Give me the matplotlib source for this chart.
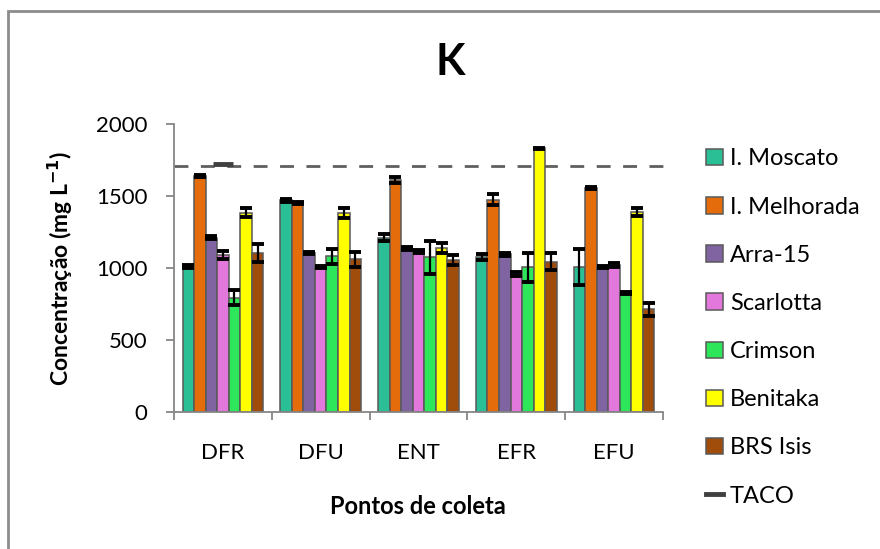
import numpy as np
import matplotlib.pyplot as plt
from matplotlib.patches import Rectangle
from matplotlib.lines import Line2D

plt.rcParams['font.family'] = ['Lato', 'DejaVu Sans']

pontos = ['DFR', 'DFU', 'ENT', 'EFR', 'EFU']
cultivares = ['I. Moscato', 'I. Melhorada', 'Arra-15', 'Scarlotta', 'Crimson', 'Benitaka', 'BRS Isis']
cores = ['#2bbf96', '#e46c0a', '#8064a2', '#e378dc', '#2ee65a', '#ffff00', '#a04d0c']

# valores (mg/L), uma lista por cultivar
moscato = [1010, 1470, 1210, 1075, 1010]
melhorada = [1640, 1450, 1610, 1475, 1555]
arra15 = [1210, 1105, 1135, 1095, 1005]
scarlotta = [1090, 1005, 1115, 960, 1020]
crimson = [795, 1080, 1075, 1005, 825]
benitaka = [1385, 1380, 1140, 1830, 1390]
brs_isis = [1105, 1060, 1055, 1045, 715]

err_moscato = [8, 12, 25, 22, 125]
err_melhorada = [8, 6, 20, 40, 6]
err_arra15 = [10, 6, 8, 10, 6]
err_scarlotta = [25, 6, 12, 15, 12]
err_crimson = [55, 55, 115, 100, 6]
err_benitaka = [30, 35, 35, 6, 30]
err_brs_isis = [60, 50, 35, 60, 45]

taco = 1710

valores = [moscato, melhorada, arra15, scarlotta, crimson, benitaka, brs_isis]
erros = [err_moscato, err_melhorada, err_arra15, err_scarlotta, err_crimson, err_benitaka, err_brs_isis]

fig = plt.figure(figsize=(8.8, 5.49), dpi=100)
ax = fig.add_axes([174/880, 1-412/549, (663-174)/880, (412-124)/549])

x = np.arange(len(pontos))
w = 0.118
for j in range(len(cultivares)):
    ax.bar(x + (j - 3) * w, valores[j], w, color=cores[j], edgecolor='#595959',
           linewidth=1.1, label=cultivares[j], zorder=2)
    ax.errorbar(x + (j - 3) * w, valores[j], yerr=erros[j], fmt='none', ecolor='black',
                elinewidth=1.6, capsize=4.2, capthick=2.8, zorder=3)

# linha de referencia TACO
ax.axhline(taco, color='#5f5f5f', linewidth=2.0, dashes=(5, 4.5), zorder=1, clip_on=False)
ax.plot([x[0]], [taco + 12], marker='_', markersize=14, mew=3.5, color='#404040', zorder=4,
        linestyle='none')

ax.set_xlim(-0.5, len(pontos) - 0.5)
ax.set_ylim(0, 2000)
ax.set_yticks([0, 500, 1000, 1500, 2000])
ax.set_xticks(x)
ax.set_xticklabels(pontos)
ax.set_xticks(np.arange(-0.5, len(pontos)), minor=True)
ax.tick_params(axis='x', which='major', length=0, pad=22, labelsize=16)
ax.tick_params(axis='x', which='minor', length=6, width=1.3, color='#868686')
ax.tick_params(axis='y', length=6, width=1.3, color='#868686', labelsize=16, pad=13)

for s in ['top', 'right']:
    ax.spines[s].set_visible(False)
for s in ['left', 'bottom']:
    ax.spines[s].set_color('#868686')
    ax.spines[s].set_linewidth(1.3)

fig.text(418/880, 1-507/549, 'Pontos de coleta', fontsize=17, fontweight='bold',
         ha='center', va='center')
fig.text(60/880, 1-268/549, 'Concentração (mg L$^{\\mathbf{-1}}$)', fontsize=16.5,
         fontweight='bold', ha='center', va='center', rotation=90)
fig.text(450/880, 1-62/549, 'K', fontsize=31, fontweight='bold', ha='center', va='center')

handles, labels = ax.get_legend_handles_labels()
handles.append(Line2D([], [], color='#404040', linewidth=3.5))
labels.append('TACO')
ax.legend(handles, labels, loc='upper left', bbox_to_anchor=(697/880, 1-139/549),
          bbox_transform=fig.transFigure, frameon=False, fontsize=17,
          handlelength=0.7, handleheight=0.7, handletextpad=0.3, labelspacing=1.15,
          borderaxespad=0)

# borda da area do grafico
fig.patches.append(Rectangle((8/880, -0.1), 1.2, 1-11/549 + 0.1, transform=fig.transFigure,
                             fill=False, edgecolor='#8c8c8c', linewidth=2.0))

fig.savefig('out.png', dpi=100)
